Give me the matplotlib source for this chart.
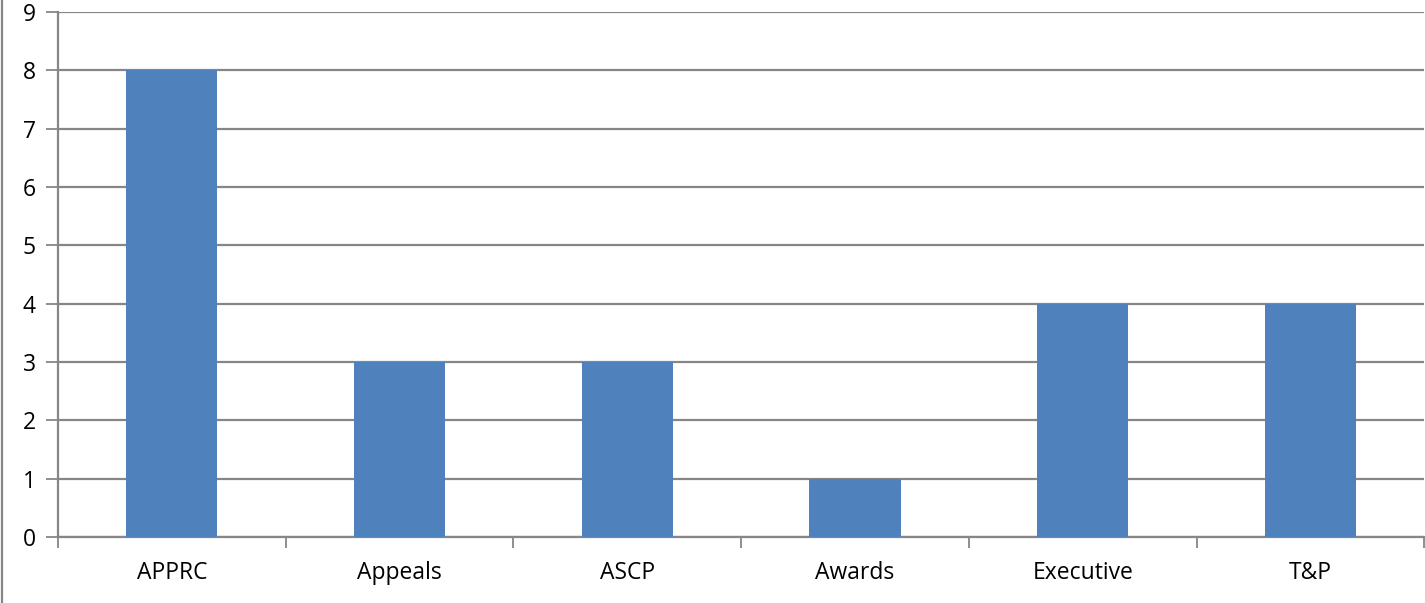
import matplotlib
matplotlib.use("Agg")
import matplotlib.pyplot as plt
from matplotlib.lines import Line2D

categories = ["APPRC", "Appeals", "ASCP", "Awards", "Executive", "T&P"]
values = [8, 3, 3, 1, 4, 4]
y_ticks = list(range(0, 10))

plt.rcParams["font.family"] = ["Open Sans", "DejaVu Sans"]

fig = plt.figure(figsize=(14.25, 6.03), dpi=100)
ax = fig.add_axes([58 / 1425, 66 / 603, 1 - 58 / 1425 - 0.0005, 525 / 603])

x = list(range(len(categories)))
ax.bar(x, values, width=0.4, color="#4F81BD", zorder=3)

ax.set_xlim(-0.5, len(categories) - 0.5)
ax.set_ylim(0, 9)
ax.set_yticks(y_ticks)
ax.yaxis.grid(True, color="#868686", linewidth=1.6, zorder=0)
ax.set_xticks(x)
ax.set_xticklabels(categories)
# category boundary ticks
ax.set_xticks([i - 0.5 for i in range(len(categories) + 1)], minor=True)
ax.tick_params(axis="x", which="major", length=0, pad=17, labelsize=16.5)
ax.tick_params(axis="x", which="minor", length=8, width=1.3, color="#868686")
ax.tick_params(axis="y", length=9, width=1.3, color="#868686", pad=7, labelsize=16.5)

for side in ["top", "right"]:
    ax.spines[side].set_visible(False)
for side in ["left", "bottom"]:
    ax.spines[side].set_color("#868686")
    ax.spines[side].set_linewidth(1.6)

# outer chart border on the left
fig.add_artist(Line2D([1.5 / 1425, 1.5 / 1425], [0, 1], transform=fig.transFigure,
                      color="#868686", linewidth=1.6))

fig.savefig("out.png", dpi=100)
